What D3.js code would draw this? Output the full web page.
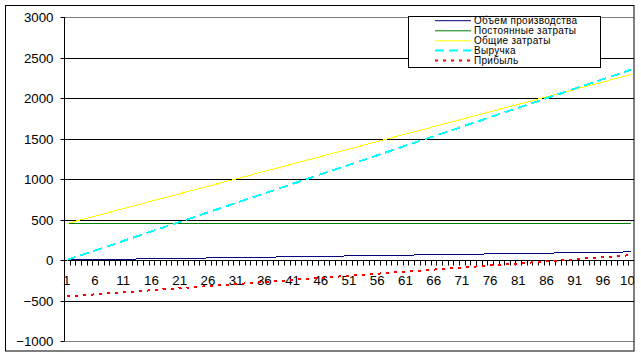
<!DOCTYPE html>
<html><head><meta charset="utf-8">
<script src="https://cdn.jsdelivr.net/npm/d3@7"></script>
<style>html,body{margin:0;padding:0;background:#fff;}svg{display:block;font-family:"Liberation Sans",Arial,sans-serif;}</style>
</head><body>
<svg id="c" width="641" height="357"></svg>
<script>
const categories = d3.range(1, 102);
const xTickLabels = [1,6,11,16,21,26,31,36,41,46,51,56,61,66,71,76,81,86,91,96,101];
const yTicks = [-1000,-500,0,500,1000,1500,2000,2500,3000];
const seriesNames = ["Объем производства","Постоянные затраты","Общие затраты","Выручка","Прибыль"];

const volume = [0,1,2,3,4,5,6,7,8,9,10,11,12,13,14,15,16,17,18,19,20,21,22,23,24,25,26,27,28,29,30,31,32,33,34,35,36,37,38,39,40,41,42,43,44,45,46,47,48,49,50,51,52,53,54,55,56,57,58,59,60,61,62,63,64,65,66,67,68,69,70,71,72,73,74,75,76,77,78,79,80,81,82,83,84,85,86,87,88,89,90,91,92,93,94,95,96,97,98,99,100];
const fixedCosts = [450,450,450,450,450,450,450,450,450,450,450,450,450,450,450,450,450,450,450,450,450,450,450,450,450,450,450,450,450,450,450,450,450,450,450,450,450,450,450,450,450,450,450,450,450,450,450,450,450,450,450,450,450,450,450,450,450,450,450,450,450,450,450,450,450,450,450,450,450,450,450,450,450,450,450,450,450,450,450,450,450,450,450,450,450,450,450,450,450,450,450,450,450,450,450,450,450,450,450,450,450];
const totalCosts = [450,468.4,486.8,505.2,523.6,542,560.4,578.8,597.2,615.6,634,652.4,670.8,689.2,707.6,726,744.4,762.8,781.2,799.6,818,836.4,854.8,873.2,891.6,910,928.4,946.8,965.2,983.6,1002,1020.4,1038.8,1057.2,1075.6,1094,1112.4,1130.8,1149.2,1167.6,1186,1204.4,1222.8,1241.2,1259.6,1278,1296.4,1314.8,1333.2,1351.6,1370,1388.4,1406.8,1425.2,1443.6,1462,1480.4,1498.8,1517.2,1535.6,1554,1572.4,1590.8,1609.2,1627.6,1646,1664.4,1682.8,1701.2,1719.6,1738,1756.4,1774.8,1793.2,1811.6,1830,1848.4,1866.8,1885.2,1903.6,1922,1940.4,1958.8,1977.2,1995.6,2014,2032.4,2050.8,2069.2,2087.6,2106,2124.4,2142.8,2161.2,2179.6,2198,2216.4,2234.8,2253.2,2271.6,2290];
const revenue = [0,23.5,47,70.5,94,117.5,141,164.5,188,211.5,235,258.5,282,305.5,329,352.5,376,399.5,423,446.5,470,493.5,517,540.5,564,587.5,611,634.5,658,681.5,705,728.5,752,775.5,799,822.5,846,869.5,893,916.5,940,963.5,987,1010.5,1034,1057.5,1081,1104.5,1128,1151.5,1175,1198.5,1222,1245.5,1269,1292.5,1316,1339.5,1363,1386.5,1410,1433.5,1457,1480.5,1504,1527.5,1551,1574.5,1598,1621.5,1645,1668.5,1692,1715.5,1739,1762.5,1786,1809.5,1833,1856.5,1880,1903.5,1927,1950.5,1974,1997.5,2021,2044.5,2068,2091.5,2115,2138.5,2162,2185.5,2209,2232.5,2256,2279.5,2303,2326.5,2350];
const profit = [-450,-444.9,-439.8,-434.7,-429.6,-424.5,-419.4,-414.3,-409.2,-404.1,-399,-393.9,-388.8,-383.7,-378.6,-373.5,-368.4,-363.3,-358.2,-353.1,-348,-342.9,-337.8,-332.7,-327.6,-322.5,-317.4,-312.3,-307.2,-302.1,-297,-291.9,-286.8,-281.7,-276.6,-271.5,-266.4,-261.3,-256.2,-251.1,-246,-240.9,-235.8,-230.7,-225.6,-220.5,-215.4,-210.3,-205.2,-200.1,-195,-189.9,-184.8,-179.7,-174.6,-169.5,-164.4,-159.3,-154.2,-149.1,-144,-138.9,-133.8,-128.7,-123.6,-118.5,-113.4,-108.3,-103.2,-98.1,-93,-87.9,-82.8,-77.7,-72.6,-67.5,-62.4,-57.3,-52.2,-47.1,-42,-36.9,-31.8,-26.7,-21.6,-16.5,-11.4,-6.3,-1.2,3.9,9,14.1,19.2,24.3,29.4,34.5,39.6,44.7,49.8,54.9,60];

const seriesData = [volume, fixedCosts, totalCosts, revenue, profit];
const styles = [
  {color:"#000080", width:1, dash:null},
  {color:"#008000", width:1, dash:null},
  {color:"#FFFF00", width:1, dash:null},
  {color:"#00FFFF", width:2, dash:"9,5"},
  {color:"#FF0000", width:2, dash:"3,5"}
];

const svg = d3.select("#c");
const L = 64, R = 634, T = 17, B = 341;
const x = d3.scaleBand().domain(categories).range([L, R]);
const y = d3.scaleLinear().domain([-1000, 3000]).range([B, T]);

svg.append("defs").append("clipPath").attr("id","clip")
  .append("rect").attr("x",5).attr("y",5).attr("width",629).attr("height",346);
const g = svg.append("g").attr("clip-path","url(#clip)");

// gridlines
g.selectAll("line.grid").data(yTicks.filter(v => v !== 0)).join("line")
  .attr("x1", L).attr("x2", R)
  .attr("y1", d => Math.round(y(d)) + 0.5).attr("y2", d => Math.round(y(d)) + 0.5)
  .attr("stroke", d => (d === 3000 || d === -1000) ? "#808080" : "#000")
  .attr("stroke-width", 1);

// y axis
const yAxis = d3.axisLeft(y).tickValues(yTicks).tickSize(4).tickPadding(7).tickFormat(d3.format("d"));
const ya = g.append("g").attr("transform", `translate(${L + 0.5},0)`).call(yAxis);
ya.select(".domain").remove();
ya.append("line").attr("x1",0).attr("x2",0).attr("y1",T).attr("y2",B).attr("stroke","#000");
ya.selectAll(".tick line").attr("stroke","#000");
ya.selectAll(".tick").attr("transform", d => `translate(0,${Math.round(y(d)) + 0.5})`);
ya.selectAll(".tick text").attr("font-size","13.3px").attr("fill","#000").attr("font-family","Liberation Sans, Arial, sans-serif");

// x axis at 0
const y0 = Math.round(y(0)) + 0.5;
const xa = g.append("g").attr("transform", `translate(0,${y0})`);
xa.append("line").attr("x1",L).attr("x2",R).attr("y1",0).attr("y2",0).attr("stroke","#000");
const bounds = categories.map(c => x(c)).concat([R]);
xa.selectAll("line.tk").data(bounds).join("line")
  .attr("x1", d => Math.round(d) + 0.5).attr("x2", d => Math.round(d) + 0.5)
  .attr("y1", 0).attr("y2", 5).attr("stroke","#000");
xa.selectAll("text").data(xTickLabels).join("text")
  .attr("x", d => x(d) + x.bandwidth()/2).attr("y", 24)
  .attr("text-anchor","middle").attr("font-size","13.3px").attr("fill","#000")
  .text(d => d);

// series lines
const line = d3.line().x((d,i) => x(categories[i]) + x.bandwidth()/2).y(d => y(d));
seriesData.forEach((data, i) => {
  const s = styles[i];
  g.append("path").datum(data).attr("d", line)
    .attr("fill","none").attr("stroke", s.color).attr("stroke-width", s.width)
    .attr("stroke-dasharray", s.dash).attr("shape-rendering","crispEdges");
});

// outer border
svg.append("rect").attr("x",5.5).attr("y",5.5).attr("width",628.5).attr("height",345.5)
  .attr("fill","none").attr("stroke","#000");

// legend
const lg = svg.append("g");
lg.append("rect").attr("x",408.5).attr("y",16.5).attr("width",192).attr("height",51)
  .attr("fill","#fff").attr("stroke","#000");
const rowY = [20.7, 30.8, 40.8, 50.5, 60.5];
seriesNames.forEach((name, i) => {
  const s = styles[i];
  lg.append("line").attr("x1",435).attr("x2",471).attr("y1",rowY[i]).attr("y2",rowY[i])
    .attr("stroke", s.color).attr("stroke-width", s.width).attr("stroke-dasharray", s.dash);
  lg.append("text").attr("x",474).attr("y",rowY[i] + 3.6).attr("font-size","10px")
    .attr("letter-spacing","0.3px").attr("fill","#000").text(name);
});
</script>
</body></html>
